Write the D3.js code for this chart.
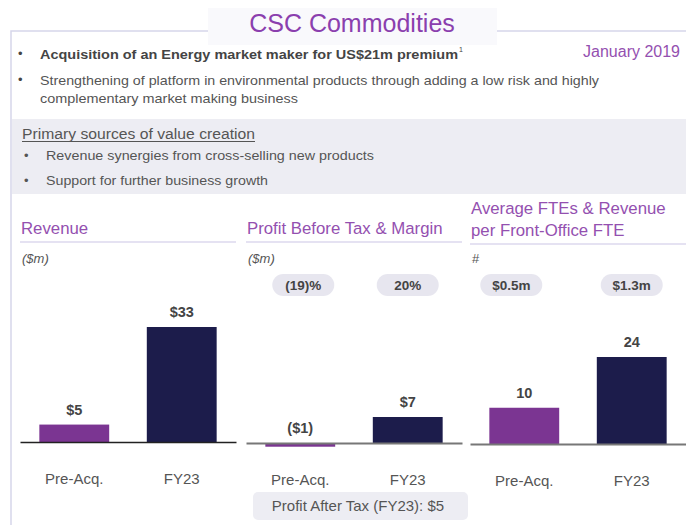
<!DOCTYPE html>
<html>
<head>
<meta charset="utf-8">
<script src="https://cdn.jsdelivr.net/npm/d3@7"></script>
<style>
  body { margin: 0; background: #fff; }
  svg { display: block; font-family: "Liberation Sans", Arial, sans-serif; }
</style>
</head>
<body>
<svg width="686" height="529"></svg>
<script>
// chart data
const categories = ["Pre-Acq.", "FY23"];
const revenue = [5, 33];
const profitBeforeTax = [-1, 7];
const margins = ["(19)%", "20%"];
const avgFtes = [10, 24];
const revPerFte = ["$0.5m", "$1.3m"];

const purple = "#7b3592", navy = "#1c1c4b", lilac = "#9450b0", grey = "#555";

const svg = d3.select("svg");

// frame + title
svg.append("path")
  .attr("d", "M11,525 L11,31 L686,31")
  .attr("fill", "none").attr("stroke", "#d6d6ea").attr("stroke-width", 1.5);
svg.append("rect").attr("x", 208).attr("y", 8).attr("width", 289).attr("height", 37)
  .attr("fill", "#f9f9fc");
svg.append("text").attr("x", 352).attr("y", 32).attr("text-anchor", "middle")
  .attr("font-size", 25).attr("fill", "#8b3fae").text("CSC Commodities");

svg.append("text").attr("x", 680).attr("y", 57).attr("text-anchor", "end")
  .attr("font-size", 16).attr("fill", lilac).text("January 2019");

// intro bullets
const intro = svg.append("g").attr("fill", "#444");
intro.append("text").attr("x", 18).attr("y", 58).attr("font-size", 13).text("•");
intro.append("text").attr("x", 40).attr("y", 59).attr("font-size", 13.5).attr("font-weight", "bold")
  .attr("textLength", 418).attr("lengthAdjust", "spacingAndGlyphs")
  .text("Acquisition of an Energy market maker for US$21m premium");
intro.append("text").attr("x", 459).attr("y", 52).attr("font-size", 7).text("1");
intro.append("text").attr("x", 18).attr("y", 84).attr("font-size", 13).text("•");
intro.append("text").attr("x", 40).attr("y", 85).attr("font-size", 13.5).attr("fill", grey)
  .attr("textLength", 559).attr("lengthAdjust", "spacingAndGlyphs")
  .text("Strengthening of platform in environmental products through adding a low risk and highly");
intro.append("text").attr("x", 40).attr("y", 103).attr("font-size", 13.5).attr("fill", grey)
  .attr("textLength", 258).attr("lengthAdjust", "spacingAndGlyphs")
  .text("complementary market making business");

// grey box
svg.append("rect").attr("x", 12).attr("y", 119).attr("width", 674).attr("height", 75)
  .attr("fill", "#ededf3");
svg.append("text").attr("x", 22).attr("y", 139).attr("font-size", 14).attr("fill", grey)
  .attr("textLength", 233).attr("lengthAdjust", "spacingAndGlyphs")
  .text("Primary sources of value creation");
svg.append("line").attr("x1", 22).attr("x2", 255).attr("y1", 141.5).attr("y2", 141.5)
  .attr("stroke", grey).attr("stroke-width", 1);
[["Revenue synergies from cross-selling new products", 160, 328],
 ["Support for further business growth", 185, 222]].forEach(([t, y, w]) => {
  svg.append("text").attr("x", 24).attr("y", y).attr("font-size", 13).attr("fill", grey).text("•");
  svg.append("text").attr("x", 46).attr("y", y).attr("font-size", 13.5).attr("fill", grey)
    .attr("textLength", w).attr("lengthAdjust", "spacingAndGlyphs").text(t);
});

// panels
const fmtMoney = v => v < 0 ? `($${-v})` : `$${v}`;
const panels = [
  { x0: 20, title: ["Revenue"], unit: "($m)", values: revenue, fmt: fmtMoney,
    base: 442, topY: 327, axis: "#222", axisW: 1.5 },
  { x0: 246, title: ["Profit Before Tax & Margin"], unit: "($m)", values: profitBeforeTax, fmt: fmtMoney,
    base: 443, topY: 417, axis: "#777", axisW: 2, pills: margins, pillDx: [3, 0] },
  { x0: 470, title: ["Average FTEs & Revenue", "per Front-Office FTE"], unit: "#", values: avgFtes, fmt: String,
    base: 444, topY: 357, axis: "#777", axisW: 2, pills: revPerFte, pillDx: [-13, 0] }
];
const panelW = 216;

panels.forEach(p => {
  const g = svg.append("g");
  const x = d3.scaleBand().domain(categories).range([p.x0, p.x0 + panelW])
    .paddingInner(0.35).paddingOuter(0.18);
  const y = d3.scaleLinear().domain([0, d3.max(p.values)]).range([p.base, p.topY]);

  const titleTop = p.title.length > 1 ? 214 : 234;
  p.title.forEach((t, i) => {
    g.append("text").attr("x", p.x0 + 1).attr("y", titleTop + i * 22).attr("font-size", 16.8)
      .attr("fill", lilac).text(t);
  });
  g.append("line").attr("x1", p.x0).attr("x2", p.x0 + panelW)
    .attr("y1", p.title.length > 1 ? 244 : 242).attr("y2", p.title.length > 1 ? 244 : 242)
    .attr("stroke", "#dcd8ee").attr("stroke-width", 1.5);
  g.append("text").attr("x", p.x0 + 2).attr("y", 263).attr("font-size", 13)
    .attr("font-style", p.unit === "#" ? "normal" : "italic").attr("fill", grey).text(p.unit);

  if (p.pills) {
    const pg = g.selectAll(".pill").data(p.pills).join("g").attr("class", "pill")
      .attr("transform", (d, i) => `translate(${x(categories[i]) + x.bandwidth() / 2 + p.pillDx[i]},285)`);
    pg.append("rect").attr("x", -31).attr("y", -11).attr("width", 62).attr("height", 22)
      .attr("rx", 11).attr("fill", "#e7e6ef");
    pg.append("text").attr("text-anchor", "middle").attr("dy", "0.35em").attr("font-size", 13.5)
      .attr("font-weight", "bold").attr("fill", "#444").text(d => d);
  }

  g.selectAll(".bar").data(p.values).join("rect").attr("class", "bar")
    .attr("x", (d, i) => x(categories[i])).attr("width", x.bandwidth())
    .attr("y", d => Math.min(y(d), y(0))).attr("height", d => Math.abs(y(d) - y(0)))
    .attr("fill", (d, i) => i === 0 ? purple : navy);

  g.selectAll(".val").data(p.values).join("text").attr("class", "val")
    .attr("x", (d, i) => x(categories[i]) + x.bandwidth() / 2)
    .attr("y", d => Math.min(y(d), y(0)) - 15).attr("dy", "0.35em")
    .attr("text-anchor", "middle").attr("font-size", 14.5).attr("font-weight", "bold")
    .attr("fill", "#444").text(p.fmt);

  const ax = g.append("g").attr("transform", `translate(0,${y(0)})`)
    .call(d3.axisBottom(x).tickSize(0).tickPadding(31));
  ax.select(".domain").attr("stroke", p.axis).attr("stroke-width", p.axisW);
  ax.selectAll("text").attr("font-size", 15).attr("fill", grey)
    .attr("font-family", "Liberation Sans, Arial, sans-serif");
});

// footnote box
svg.append("rect").attr("x", 253).attr("y", 492).attr("width", 215).attr("height", 28)
  .attr("rx", 5).attr("fill", "#ededf3");
svg.append("text").attr("x", 358).attr("y", 506).attr("dy", "0.35em").attr("text-anchor", "middle")
  .attr("font-size", 15).attr("fill", grey).text("Profit After Tax (FY23): $5");
</script>
</body>
</html>
